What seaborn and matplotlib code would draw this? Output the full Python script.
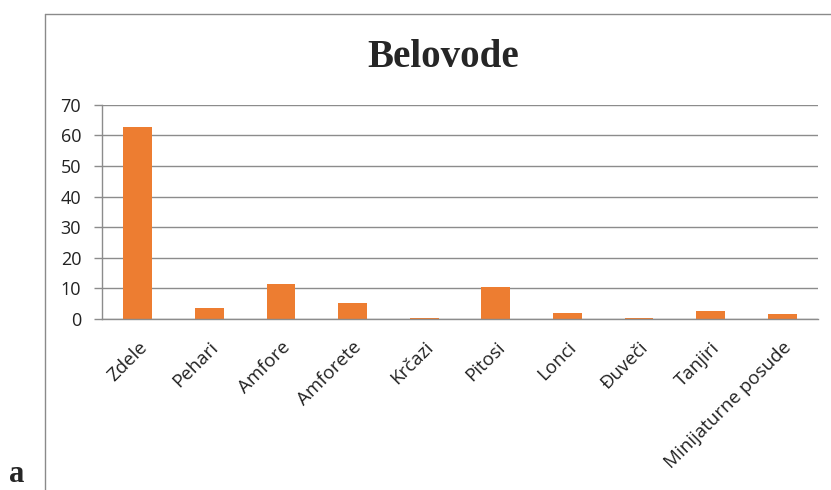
import matplotlib
matplotlib.use("Agg")
import matplotlib.pyplot as plt
import seaborn as sns
import pandas as pd
import numpy as np
from matplotlib.lines import Line2D

categories = ["Zdele", "Pehari", "Amfore", "Amforete", "Krčazi", "Pitosi",
              "Lonci", "Đuveči", "Tanjiri", "Minijaturne posude"]
values = [62.7, 3.5, 11.5, 5.3, 0.4, 10.6, 1.9, 0.4, 2.5, 1.5]
yticks = [0, 10, 20, 30, 40, 50, 60, 70]
title = "Belovode"

sns.set_style("white")
plt.rcParams['font.family'] = ['Open Sans', 'DejaVu Sans']

df = pd.DataFrame({"cat": categories, "val": values})

fig = plt.figure(figsize=(8.31, 4.9), dpi=100)
ax = fig.add_axes([102/831, 1-319/490, (818-102)/831, (319-104.7)/490])

sns.barplot(data=df, x="cat", y="val", color="#ED7D31", width=0.4,
            saturation=1, ax=ax, edgecolor="none")

grid_c = "#8c8c8c"
ax.set_ylim(0, 70)
ax.set_xlim(-0.5, len(categories) - 0.5)
ax.set_yticks(yticks)
ax.set_yticklabels([str(v) for v in yticks], fontsize=13, color="#222222")
ax.yaxis.grid(True, color=grid_c, linewidth=1)
ax.set_axisbelow(True)
ax.set_xlabel("")
ax.set_ylabel("")

ax.set_xticks(range(len(categories)))
ax.set_xticklabels(categories, rotation=45, ha="right", rotation_mode="anchor",
                   fontsize=13.5, color="#222222")
ax.tick_params(axis="x", which="major", length=0, pad=14)
ax.set_xticks(np.arange(-0.5, len(categories), 1.0), minor=True)
ax.tick_params(axis="x", which="minor", length=6, color=grid_c, width=1)
ax.tick_params(axis="y", length=6, color=grid_c, width=1, left=True, pad=9)

for s in ["top", "right"]:
    ax.spines[s].set_visible(False)
for s in ["left", "bottom"]:
    ax.spines[s].set_color(grid_c)
    ax.spines[s].set_linewidth(1)

fig.text(443/831, 1-67/490, title, ha="center", va="baseline",
         fontsize=28, fontweight="bold", family="Liberation Serif")

# chart frame
fig.add_artist(Line2D([45/831, 45/831], [0, 1-14/490], transform=fig.transFigure,
                      color="#8a8a8a", linewidth=1))
fig.add_artist(Line2D([45/831, 1], [1-14/490, 1-14/490], transform=fig.transFigure,
                      color="#8a8a8a", linewidth=1))

fig.text(9/831, 1/490, "a", ha="left", va="bottom", fontsize=22,
         fontweight="bold", family="Liberation Serif")

fig.savefig("out.png", dpi=100)
